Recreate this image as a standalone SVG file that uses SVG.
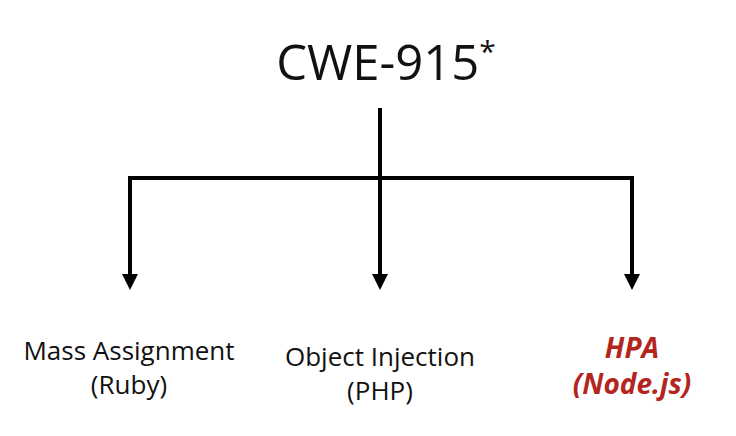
<svg xmlns="http://www.w3.org/2000/svg" width="736" height="436" viewBox="0 0 736 436">
<style>
.t{font-family:"Open Sans","DejaVu Sans",sans-serif;fill:#111;text-anchor:middle}
.l{font-size:26px}
.r{font-size:28px;font-weight:bold;font-style:italic;fill:#b3261e}
.c{stroke:#000;stroke-width:4;fill:none}
</style>
<defs><marker id="a" markerWidth="4" markerHeight="4" refX="2" refY="2" orient="auto" markerUnits="strokeWidth"><path d="M0,0 L4,2 L0,4 z" fill="#000"/></marker></defs>
<rect width="736" height="436" fill="#fff"/>
<g id="title"><text class="t" x="386" y="80" font-size="49">CWE-915<tspan font-size="30" dy="-18">*</tspan></text></g>
<g id="connectors">
<path class="c" d="M380,108 V178 M130,178 H632"/>
<path class="c" d="M130,176 V282" marker-end="url(#a)"/>
<path class="c" d="M380,176 V282" marker-end="url(#a)"/>
<path class="c" d="M632,176 V282" marker-end="url(#a)"/>
</g>
<g id="mass"><text class="t l" x="129" y="360">Mass Assignment</text><text class="t l" x="129" y="394">(Ruby)</text></g>
<g id="obj"><text class="t l" x="380" y="366">Object Injection</text><text class="t l" x="380" y="400">(PHP)</text></g>
<g id="hpa"><text class="t r" x="632" y="358">HPA</text><text class="t r" x="632" y="394">(Node.js)</text></g>
</svg>
